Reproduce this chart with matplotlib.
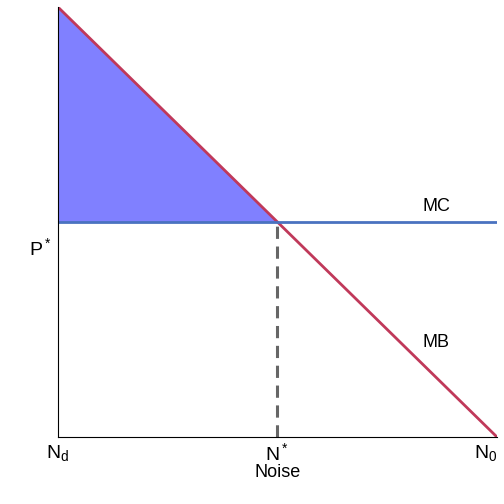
import matplotlib
matplotlib.use('agg')
import matplotlib.pyplot as plt
import numpy as np

plt.rcParams['font.family'] = ['Liberation Sans', 'DejaVu Sans']

# data (arbitrary units)
noise = [0, 10]
mb = [10, 0]
mc_level = 5
n_star = 5
tick_pos = [0, 5, 10]
tick_labels = ['$\\mathregular{N_d}$', '$\\mathregular{N^*}$', '$\\mathregular{N_0}$']

fig = plt.figure(figsize=(5.04, 5.04), dpi=100)
ax = fig.add_axes([0.115, 0.133, 0.871, 0.853])

# consumer surplus triangle
ax.fill_between([0, n_star], [10, mc_level], [mc_level, mc_level], color='#8080ff', lw=0)
ax.plot(noise, mb, color='#c0395a', lw=2)
ax.axhline(mc_level, color='#4a72c0', lw=2)
ax.plot([n_star, n_star], [0, mc_level], color='#666666', lw=2.2, ls=(0, (4, 2.5)))

ax.text(8.3, mc_level + 0.25, 'MC', fontsize=13)
ax.text(8.3, 2.1, 'MB', fontsize=13)

ax.set_xlim(0, 10)
ax.set_ylim(0, 10)
ax.set_xticks(tick_pos)
ax.set_xticklabels(tick_labels, fontsize=14)
ax.get_xticklabels()[-1].set_ha('right')
ax.set_yticks([mc_level - 0.55])
ax.set_yticklabels(['$\\mathregular{P^*}$'], fontsize=14)
ax.tick_params(length=0, pad=4)
ax.set_xlabel('Noise', fontsize=13, labelpad=0)
for s in ['top', 'right']:
    ax.spines[s].set_visible(False)

fig.savefig('out.png', dpi=100)
